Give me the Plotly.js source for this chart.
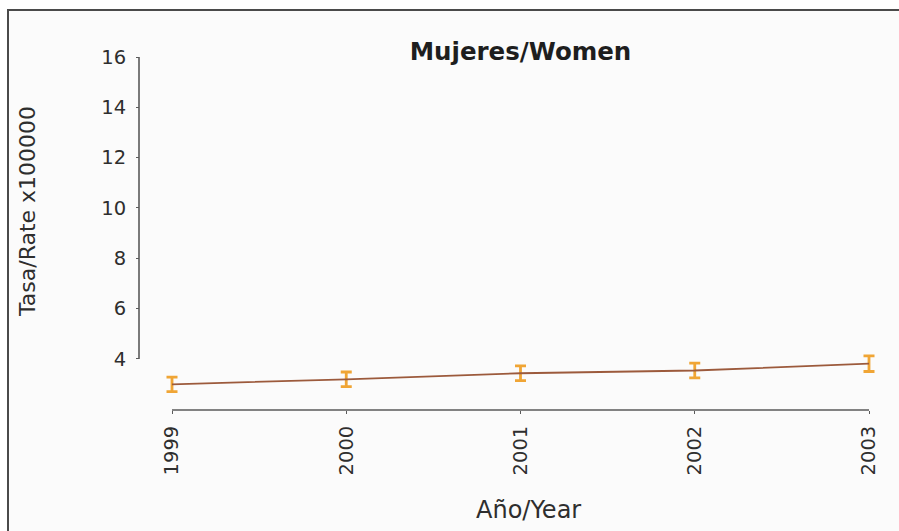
<!DOCTYPE html>
<html>
<head>
<meta charset="utf-8">
<script src="https://cdn.plot.ly/plotly-3.0.1.min.js"></script>
<style>html,body{margin:0;padding:0;background:#fff;}#chart{width:899px;height:531px;}</style>
</head>
<body>
<div id="chart"></div>
<script>
const years = [1999, 2000, 2001, 2002, 2003];
const rates = [2.99, 3.19, 3.43, 3.54, 3.81];
const errors = [0.29, 0.29, 0.29, 0.29, 0.31];
const yTicks = [4, 6, 8, 10, 12, 14, 16];
const titleText = 'Mujeres/Women';
const xTitle = 'Año/Year';
const yTitle = 'Tasa/Rate x100000';

const font = 'DejaVu Sans, Liberation Sans, Arial, sans-serif';
const axisColor = '#5a5a5a';
const textColor = '#2e2e2e';

// pixel layout helpers (plot area from x=139 to x=876, y=57 to y=410)
const L = 139, R = 876, T = 57, B = 410, W = R - L, H = B - T;
const px = v => (v - L) / W;
const py = v => (B - v) / H;

const trace = {
  x: years,
  y: rates,
  type: 'scatter',
  mode: 'lines',
  line: {color: '#9c5a3c', width: 1.8},
  error_y: {type: 'data', array: errors, visible: true, color: '#f0a535', thickness: 2.8, width: 5.5},
  hoverinfo: 'skip'
};

const layout = {
  width: 899, height: 531,
  margin: {l: L, r: 899 - R, t: T, b: 531 - B},
  paper_bgcolor: '#ffffff',
  plot_bgcolor: 'rgba(0,0,0,0)',
  showlegend: false,
  font: {family: font, color: textColor, size: 19},
  title: {
    text: '<b>' + titleText + '</b>',
    font: {family: font, size: 24.5, color: '#1e1e1e'},
    xref: 'paper', x: px(520.5), xanchor: 'center',
    yref: 'container', y: 1 - 51/531, yanchor: 'middle'
  },
  xaxis: {
    domain: [px(165), 1],
    range: [1999 - 7/174.25, 2003 + 7/174.25],
    tickvals: years,
    ticktext: years.map(String),
    tickangle: -90,
    showline: false,
    ticks: 'outside', ticklen: 3, tickcolor: axisColor,
    ticklabelstandoff: 4,
    showgrid: false, zeroline: false,
    tickfont: {family: font, size: 19.5, color: textColor}
  },
  yaxis: {
    anchor: 'free', position: 0,
    range: [1.97, 16],
    tickvals: yTicks,
    ticktext: yTicks.map(String),
    showline: false,
    ticks: 'outside', ticklen: 3, tickcolor: axisColor,
    ticklabelstandoff: 6,
    showgrid: false, zeroline: false,
    tickfont: {family: font, size: 19.5, color: textColor}
  },
  annotations: [
    {text: yTitle, textangle: -90, showarrow: false, xref: 'paper', yref: 'paper',
     x: px(27), y: py(212), xanchor: 'center', yanchor: 'middle',
     font: {family: font, size: 22, color: textColor}},
    {text: xTitle, showarrow: false, xref: 'paper', yref: 'paper',
     x: px(528), y: py(510), xanchor: 'center', yanchor: 'middle',
     font: {family: font, size: 24, color: textColor}}
  ],
  shapes: [
    {type: 'rect', layer: 'below', xref: 'paper', yref: 'paper',
     x0: px(8), x1: px(910), y0: py(545), y1: py(10),
     line: {color: '#4a4a4a', width: 2}, fillcolor: '#fbfbfb'},
    {type: 'line', xref: 'paper', yref: 'y', x0: 0, x1: 0, y0: 4, y1: 16,
     line: {color: axisColor, width: 1.6}},
    {type: 'line', xref: 'x', yref: 'paper', x0: years[0], x1: years[years.length - 1], y0: 0, y1: 0,
     line: {color: axisColor, width: 1.6}}
  ]
};

Plotly.newPlot('chart', [trace], layout, {displayModeBar: false, staticPlot: true});
</script>
</body>
</html>
